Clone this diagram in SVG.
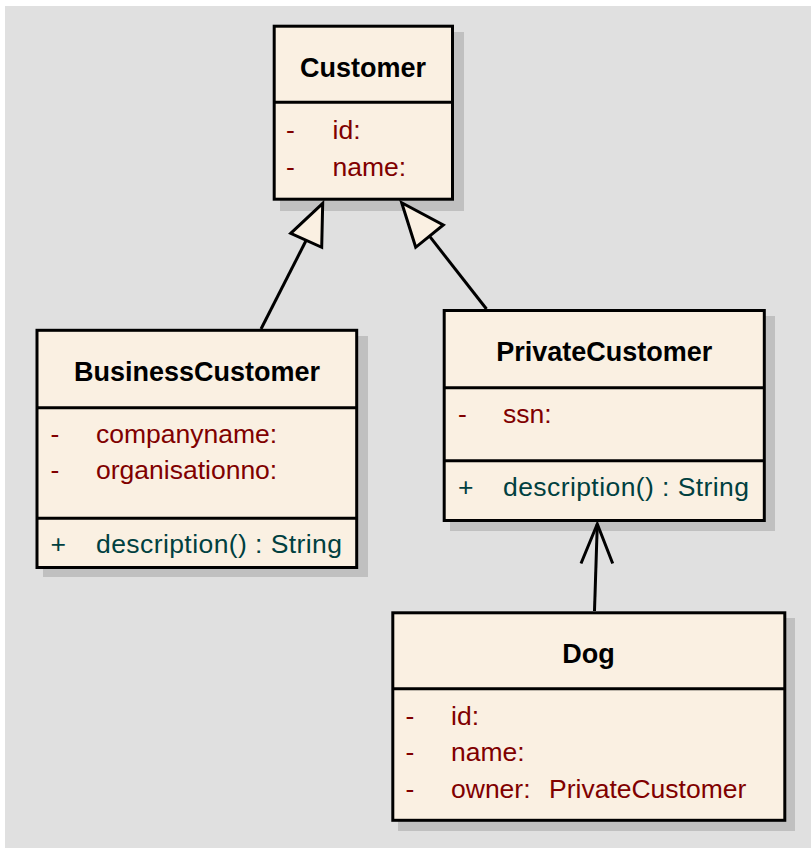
<svg xmlns="http://www.w3.org/2000/svg" width="811" height="848" viewBox="0 0 811 848">
  <style>
    .shadow { fill: #c0c0c0; }
    .box { fill: #faf0e2; stroke: #000; stroke-width: 3; }
    .sep { stroke: #000; stroke-width: 3; }
    .title { font-family: "Liberation Sans", Arial, sans-serif; font-size: 27px; font-weight: bold; fill: #000; text-anchor: middle; }
    .attr { font-family: "Liberation Sans", Arial, sans-serif; font-size: 26.5px; fill: #800000; }
    .op { font-family: "Liberation Sans", Arial, sans-serif; font-size: 26.5px; fill: #004040; }
    .edge { fill: none; stroke: #000; stroke-width: 3; stroke-linejoin: miter; }
    .head { fill: #faf0e2; stroke: #000; stroke-width: 3; stroke-linejoin: miter; }
  </style>

  <!-- canvas -->
  <rect x="0" y="0" width="811" height="848" fill="#ffffff"/>
  <rect x="5" y="6" width="806" height="842" fill="#e0e0e0"/>

  <!-- Customer -->
  <g id="customer">
    <rect class="shadow" x="280" y="32" width="184" height="179"/>
    <rect class="box" x="274.2" y="26.2" width="178.3" height="173"/>
    <line class="sep" x1="274.2" y1="102.2" x2="452.5" y2="102.2"/>
    <text class="title" x="363" y="77">Customer</text>
    <text class="attr" x="286" y="138.5">-</text>
    <text class="attr" x="332.5" y="138.5">id:</text>
    <text class="attr" x="286" y="175.5">-</text>
    <text class="attr" x="332.5" y="175.5">name:</text>
  </g>

  <!-- BusinessCustomer -->
  <g id="business-customer">
    <rect class="shadow" x="43" y="336" width="325" height="241"/>
    <rect class="box" x="37" y="330.3" width="319.7" height="237.2"/>
    <line class="sep" x1="37" y1="407.8" x2="356.7" y2="407.8"/>
    <line class="sep" x1="37" y1="518.3" x2="356.7" y2="518.3"/>
    <text class="title" x="197" y="381">BusinessCustomer</text>
    <text class="attr" x="50.5" y="443">-</text>
    <text class="attr" x="96" y="443">companyname:</text>
    <text class="attr" x="50.5" y="479">-</text>
    <text class="attr" x="96" y="479">organisationno:</text>
    <text class="op" x="50.5" y="553">+</text>
    <text class="op" x="96" y="553" textLength="246" lengthAdjust="spacing">description() : String</text>
  </g>

  <!-- PrivateCustomer -->
  <g id="private-customer">
    <rect class="shadow" x="450" y="316" width="325" height="215"/>
    <rect class="box" x="444.2" y="310.5" width="320.1" height="210"/>
    <line class="sep" x1="444.2" y1="387.8" x2="764.3" y2="387.8"/>
    <line class="sep" x1="444.2" y1="460.8" x2="764.3" y2="460.8"/>
    <text class="title" x="604.3" y="361">PrivateCustomer</text>
    <text class="attr" x="458" y="423">-</text>
    <text class="attr" x="503" y="423">ssn:</text>
    <text class="op" x="458" y="496">+</text>
    <text class="op" x="503" y="496" textLength="246" lengthAdjust="spacing">description() : String</text>
  </g>

  <!-- Dog -->
  <g id="dog">
    <rect class="shadow" x="398" y="618" width="397" height="213"/>
    <rect class="box" x="392.8" y="612.8" width="392" height="207.5"/>
    <line class="sep" x1="392.8" y1="688.8" x2="784.8" y2="688.8"/>
    <text class="title" x="588.5" y="662.5">Dog</text>
    <text class="attr" x="405.5" y="725">-</text>
    <text class="attr" x="451" y="725">id:</text>
    <text class="attr" x="405.5" y="761">-</text>
    <text class="attr" x="451" y="761">name:</text>
    <text class="attr" x="405.5" y="798">-</text>
    <text class="attr" x="451" y="798">owner:<tspan x="549">PrivateCustomer</tspan></text>
  </g>

  <!-- connectors -->
  <g id="connectors">
    <!-- BusinessCustomer generalizes Customer -->
    <line class="edge" x1="261" y1="329" x2="306.2" y2="240.3"/>
    <polygon class="head" points="322.7,203.3 290.7,233.3 321.7,247.3"/>
    <!-- PrivateCustomer generalizes Customer -->
    <line class="edge" x1="486.5" y1="309" x2="429.5" y2="236.2"/>
    <polygon class="head" points="401.7,202.7 443.3,225 415.7,247.3"/>
    <!-- Dog to PrivateCustomer association -->
    <line class="edge" x1="594.5" y1="611" x2="597.3" y2="524"/>
    <polyline class="edge" points="581,563.5 597.3,524 612.7,563.5"/>
  </g>
</svg>
